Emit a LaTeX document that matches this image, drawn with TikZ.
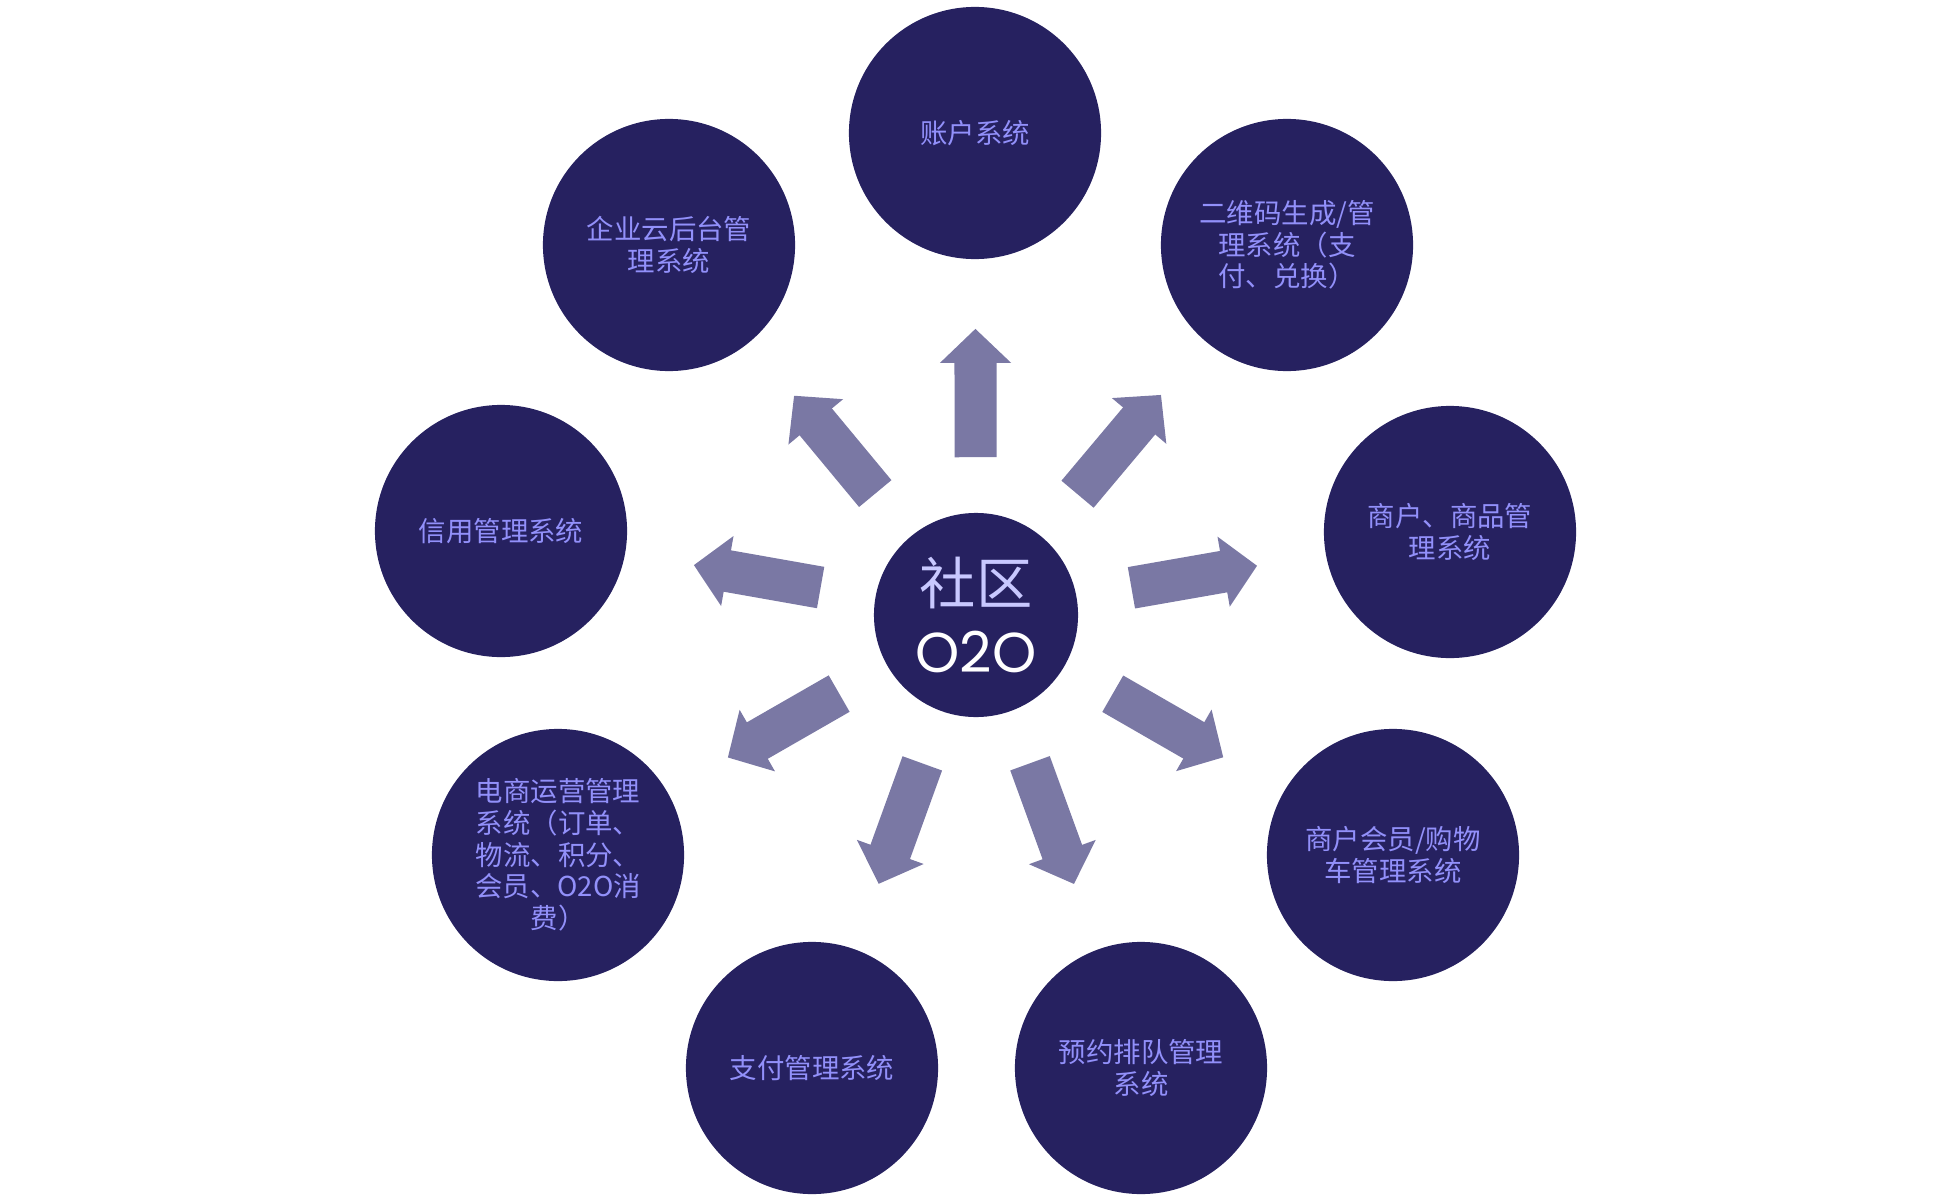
\documentclass[tikz,border=0pt]{standalone}
\usepackage{fontspec}
\setmainfont{Noto Sans CJK SC}
\newfontfamily\otofont{Poppins}
\usetikzlibrary{arrows.meta}
\definecolor{navy}{RGB}{38,33,96}
\definecolor{lilac}{RGB}{146,144,250}
\definecolor{hubtext}{RGB}{200,200,255}
\definecolor{slate}{RGB}{122,120,164}
\begin{document}
\begin{tikzpicture}[x=0.01cm,y=-0.01cm]
\tikzstyle{every node}+=[inner sep=0pt]
\tikzstyle{sys}=[circle,fill=navy,minimum size=2.52cm,text=lilac,align=center,font=\fontsize{7.8}{9}\selectfont]
\tikzstyle{push}=[draw=slate,line width=0.42cm,-{Triangle[width=0.69cm,length=0.34cm,fill=slate]},shorten <=0.55cm,shorten >=0.69cm]
\useasboundingbox (0,0) rectangle (1951,1200);
\node [circle,fill=navy,minimum size=2.04cm,align=center,font=\fontsize{16}{19.4}\selectfont] (hub) at (976,615) {{\color{hubtext}社区}\\{\otofont\color{white}O2O}};
\node [sys] (account) at (975,133) {账户系统};
\node [sys] (cloud) at (669,245) {企业云后台管\\理系统};
\node [sys] (qrcode) at (1287,245) {二维码生成/管\\理系统（支\\付、兑换）};
\node [sys] (credit) at (501,531) {信用管理系统};
\node [sys] (goods) at (1450,532) {商户、商品管\\理系统};
\node [sys] (ecom) at (558,855) {电商运营管理\\系统（订单、\\物流、积分、\\会员、O2O消\\费）};
\node [sys] (member) at (1393,855) {商户会员/购物\\车管理系统};
\node [sys] (pay) at (812,1068) {支付管理系统};
\node [sys] (queue) at (1141,1068) {预约排队管理\\系统};
\draw [push] (hub) -- (account);
\draw [push] (hub) -- (cloud);
\draw [push] (hub) -- (qrcode);
\draw [push] (hub) -- (credit);
\draw [push] (hub) -- (goods);
\draw [push] (hub) -- (ecom);
\draw [push] (hub) -- (member);
\draw [push] (hub) -- (pay);
\draw [push] (hub) -- (queue);
\end{tikzpicture}
\end{document}
